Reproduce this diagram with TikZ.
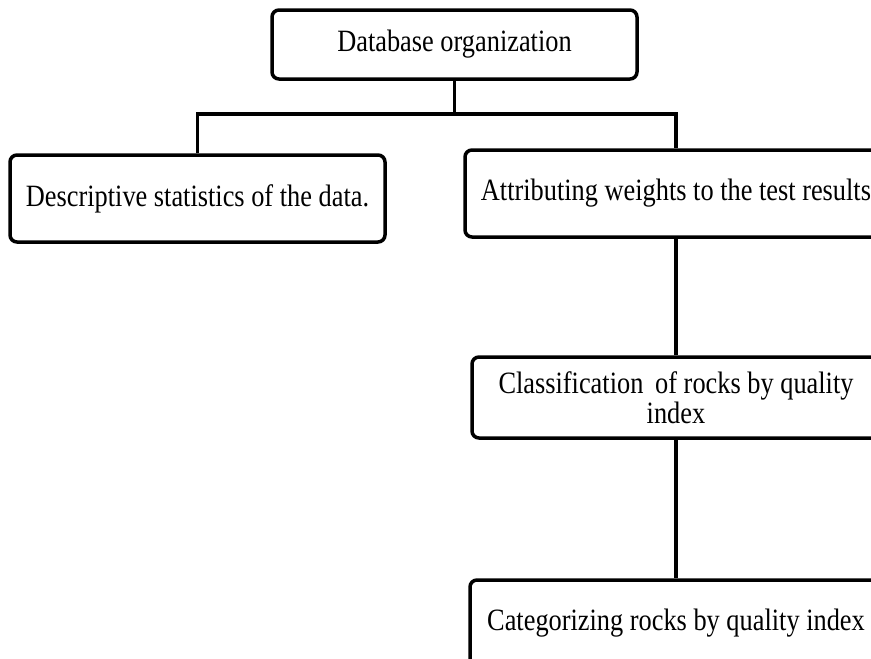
\documentclass[tikz,border=0pt]{standalone}
\usepackage{fontspec}
\setmainfont{Liberation Serif}
\newfontfamily\boxfont[FakeStretch=0.85]{Liberation Serif}
\tikzset{
  stagebox/.style={draw, line width=3.5pt, rounded corners=7pt, align=center,
    inner sep=0pt, font=\boxfont\fontsize{31}{30}\selectfont},
  link/.style={line width=3.5pt}
}
\begin{document}
\begin{tikzpicture}[x=1pt,y=-1pt]
\clip (0,0) rectangle (871,659);
\fill[white] (0,0) rectangle (871,659);
\node[stagebox, minimum width=365pt, minimum height=69pt] (db) at (454.5,44.5) {Database organization};
\node[stagebox, minimum width=375pt, minimum height=87pt] (desc) at (197.5,198.5) {Descriptive statistics of the data.};
\node[stagebox, minimum width=422pt, minimum height=87pt] (attr) at (676,193.5) {Attributing weights to the test results};
\node[stagebox, minimum width=408pt, minimum height=81pt] (class) at (676,397.5) {Classification\, of rocks by quality\\index};
\node[stagebox, minimum width=412pt, minimum height=87pt] (cat) at (676,623.5) {Categorizing rocks by quality index};
\coordinate (bus) at (0,114);
% tree links
\draw[link] (db.south) -- (db.south |- bus);
\draw[link] (desc.north) -- (desc.north |- bus) -- (attr.north |- bus) -- (attr.north);
\draw[link] (attr.south) -- (class.north);
\draw[link] (class.south) -- (cat.north);
\end{tikzpicture}
\end{document}
